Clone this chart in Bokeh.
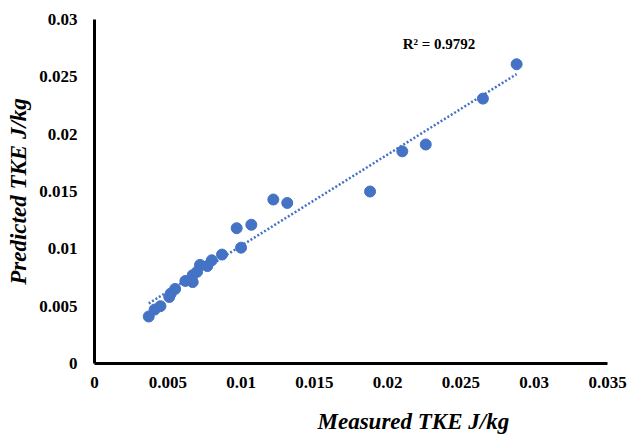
import numpy as np
from bokeh.plotting import figure
from bokeh.models import Label, Range1d, FixedTicker, CustomJSTickFormatter, Title
from bokeh.embed import file_html
from bokeh.resources import INLINE

# Measured vs predicted TKE (J/kg)
measured = [0.0288, 0.0265, 0.0226, 0.0210, 0.0188, 0.01315, 0.0122, 0.0107, 0.0097, 0.0100,
            0.0087, 0.0080, 0.0077, 0.0072, 0.0070, 0.0067, 0.0067, 0.0062, 0.0055, 0.0052,
            0.0051, 0.0045, 0.0041, 0.0037]
predicted = [0.0261, 0.0231, 0.0191, 0.0185, 0.0150, 0.0140, 0.0143, 0.0121, 0.0118, 0.0101,
             0.0095, 0.0090, 0.0085, 0.0086, 0.0080, 0.0077, 0.0071, 0.0072, 0.0065, 0.0061,
             0.0058, 0.0050, 0.0047, 0.0041]
x_ticks = [0, 0.005, 0.01, 0.015, 0.02, 0.025, 0.03, 0.035]
y_ticks = [0, 0.005, 0.01, 0.015, 0.02, 0.025, 0.03]
r2_text = "R² = 0.9792"
x_title = "Measured TKE J/kg"
y_title = "Predicted TKE J/kg"

BLUE = "#4472C4"
FONT = "Liberation Serif"

p = figure(width=633, height=437, output_backend="svg", toolbar_location=None,
           x_range=Range1d(0, 0.035), y_range=Range1d(0, 0.03),
           min_border_left=94, min_border_right=26, min_border_top=19, min_border_bottom=74)
p.outline_line_color = None
p.grid.grid_line_color = None
p.background_fill_color = "white"

fmt = CustomJSTickFormatter(code="return tick === 0 ? '0' : String(parseFloat(tick.toFixed(3)));")
for ax, ticks in ((p.xaxis[0], x_ticks), (p.yaxis[0], y_ticks)):
    ax.ticker = FixedTicker(ticks=ticks)
    ax.formatter = fmt
    ax.axis_line_width = 3
    ax.axis_line_color = "black"
    ax.major_tick_line_color = None
    ax.minor_tick_line_color = None
    ax.major_label_text_font = FONT
    ax.major_label_text_font_style = "bold"
    ax.major_label_text_font_size = "17px"
    ax.major_label_text_color = "black"

p.xaxis[0].major_label_standoff = 7
p.yaxis[0].major_label_standoff = 11

# blank spacer label under the x tick labels
p.xaxis[0].axis_label = " "
p.xaxis[0].axis_label_text_font_size = "10px"
p.xaxis[0].axis_label_standoff = 0

p.yaxis[0].axis_label = y_title
p.yaxis[0].axis_label_text_font = FONT
p.yaxis[0].axis_label_text_font_style = "bold italic"
p.yaxis[0].axis_label_text_font_size = "23px"
p.yaxis[0].axis_label_text_color = "black"
p.yaxis[0].axis_label_standoff = 5

p.add_layout(Title(text=x_title, text_font=FONT, text_font_style="bold italic",
                   text_font_size="23px", text_color="black", align="left",
                   offset=223, standoff=4), "below")

# trendline (least squares through the points)
m, b = np.polyfit(measured, predicted, 1)
xl = np.array([min(measured), max(measured)])
p.line(xl, m * xl + b, line_color=BLUE, line_width=2.5, line_dash="2 2")

p.scatter(measured, predicted, size=11, fill_color=BLUE, line_color=BLUE, marker="circle")

p.add_layout(Label(x=0.0235, y=0.0279, text=r2_text, text_font=FONT, text_font_style="bold",
                   text_font_size="15px", text_align="center", text_baseline="middle",
                   text_color="black"))

open("out.html", "w").write(file_html(p, INLINE))
